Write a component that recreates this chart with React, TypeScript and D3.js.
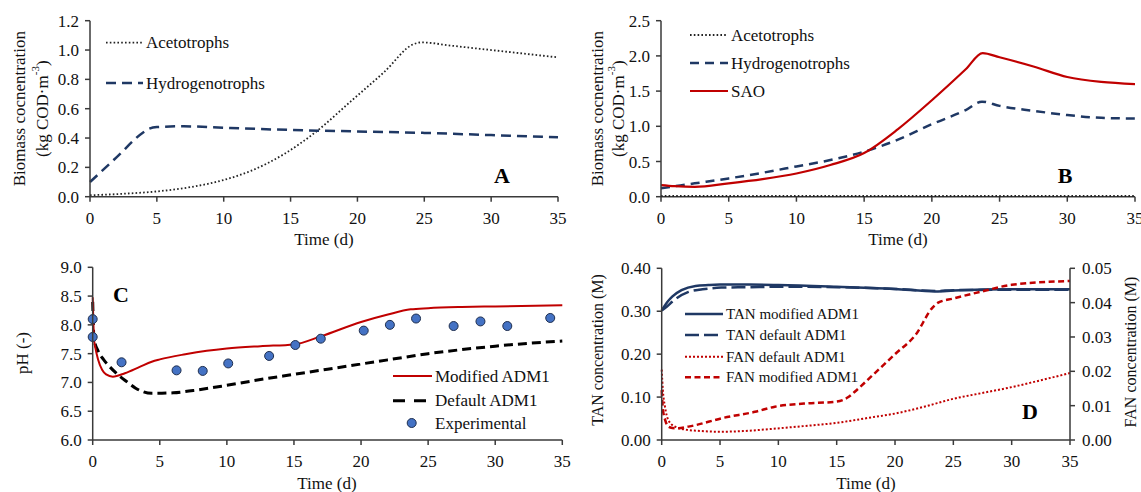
import React from "react";
import * as d3 from "d3";

// ---------- data ----------
const xTicks = [0, 5, 10, 15, 20, 25, 30, 35];
const ticksA = [0, 0.2, 0.4, 0.6, 0.8, 1.0, 1.2];
const ticksB = [0, 0.5, 1.0, 1.5, 2.0, 2.5];
const ticksC = [6.0, 6.5, 7.0, 7.5, 8.0, 8.5, 9.0];
const ticksDLeft = [0, 0.1, 0.2, 0.3, 0.4];
const ticksDRight = [0, 0.01, 0.02, 0.03, 0.04, 0.05];

// Panel A
const aAcetoT = [0, 2.5, 5, 7.5, 10, 12, 14.5, 17, 19.5, 22, 24.2, 24.8, 27, 30, 33, 35];
const aAcetoV = [0.01, 0.02, 0.036, 0.065, 0.114, 0.175, 0.29, 0.45, 0.65, 0.85, 1.04, 1.052, 1.03, 1.0, 0.97, 0.95];
const aHydroT = [0, 2, 4, 4.4, 5, 7, 10, 15, 20, 25, 30, 35];
const aHydroV = [0.1, 0.27, 0.44, 0.463, 0.475, 0.48, 0.47, 0.455, 0.445, 0.435, 0.42, 0.405];

// Panel B
const bAcetoT = [0, 10, 20, 30, 35];
const bAcetoV = [0.01, 0.01, 0.01, 0.01, 0.01];
const bHydroT = [0, 2.5, 5, 7.5, 10, 12.5, 15, 17.5, 20, 22.5, 23.7, 25, 27.5, 30, 32.5, 35];
const bHydroV = [0.12, 0.19, 0.26, 0.34, 0.43, 0.52, 0.64, 0.81, 1.03, 1.23, 1.35, 1.29, 1.22, 1.16, 1.12, 1.11];
const bSaoT = [0, 1, 2.5, 5, 7.5, 10, 12.5, 15, 17.5, 20, 22.5, 23.75, 25, 27.5, 30, 32.5, 35];
const bSaoV = [0.165, 0.15, 0.14, 0.19, 0.25, 0.33, 0.45, 0.62, 0.96, 1.37, 1.81, 2.04, 1.98, 1.85, 1.7, 1.63, 1.6];

// Panel C
const cModT = [0, 0.1, 0.2, 0.4, 0.7, 1.0, 1.5, 2.4, 3.5, 4.4, 5, 6.9, 8.5, 10, 12.5, 15, 17, 20, 22, 23.7, 25, 27.5, 30, 35];
const cModV = [8.48, 7.75, 7.6, 7.4, 7.22, 7.14, 7.1, 7.16, 7.27, 7.36, 7.4, 7.49, 7.55, 7.59, 7.63, 7.66, 7.8, 8.05, 8.18, 8.27, 8.29, 8.31, 8.32, 8.34];
const cDefT = [0, 0.1, 0.4, 0.8, 1.2, 1.9, 2.5, 3.2, 4.4, 6, 7.5, 10, 12.5, 15, 17.5, 20, 22.5, 25, 27.5, 30, 32.5, 35];
const cDefV = [8.4, 7.75, 7.55, 7.4, 7.29, 7.13, 7.02, 6.9, 6.81, 6.82, 6.86, 6.95, 7.05, 7.14, 7.23, 7.32, 7.41, 7.5, 7.57, 7.63, 7.68, 7.72];
const cExpT = [0, 0, 2.15, 6.25, 8.2, 10.1, 13.15, 15.1, 17, 20.2, 22.15, 24.1, 26.9, 28.9, 30.9, 34.1];
const cExpV = [8.1, 7.79, 7.35, 7.21, 7.2, 7.33, 7.46, 7.65, 7.76, 7.9, 8.0, 8.11, 7.98, 8.06, 7.98, 8.12];

// Panel D
const dTanModT = [0, 0.5, 0.9, 1.7, 2.9, 4, 5, 7.5, 10, 15, 20, 23.5, 25, 30, 35];
const dTanModV = [0.302, 0.322, 0.334, 0.349, 0.359, 0.361, 0.362, 0.362, 0.361, 0.357, 0.352, 0.346, 0.348, 0.351, 0.351];
const dTanDefT = [0, 0.5, 0.9, 2.3, 3.5, 5.1, 7.5, 10, 15, 20, 23.5, 25, 30, 35];
const dTanDefV = [0.302, 0.312, 0.322, 0.345, 0.351, 0.355, 0.356, 0.357, 0.356, 0.352, 0.347, 0.349, 0.35, 0.35];
const dFanDefT = [0, 0.1, 0.28, 0.57, 1.14, 2.28, 3, 5, 7, 9.3, 12, 15, 18, 20, 22.5, 25, 27.5, 30, 32.5, 35];
const dFanDefV = [0.0205, 0.0145, 0.0097, 0.0058, 0.0039, 0.0029, 0.0027, 0.0024, 0.0026, 0.0032, 0.004, 0.005, 0.0066, 0.0077, 0.0097, 0.012, 0.0137, 0.0154, 0.0174, 0.0195];
const dFanModT = [0, 0.1, 0.3, 0.57, 0.9, 1.43, 2.28, 3, 4, 5.1, 8, 9.7, 12.2, 15, 16, 16.5, 17.9, 20, 21.8, 23.2, 23.7, 25, 27.5, 30, 35];
const dFanModV = [0.0145, 0.009, 0.0058, 0.0039, 0.0035, 0.0034, 0.0039, 0.0044, 0.0053, 0.0063, 0.0082, 0.0097, 0.0106, 0.0112, 0.0125, 0.0139, 0.0183, 0.025, 0.0308, 0.0385, 0.04, 0.0412, 0.0433, 0.0452, 0.0463];

// ---------- styles ----------
const FONT = "'Liberation Serif','Times New Roman',Times,serif";
const NAVY = "#1F3864";
const RED = "#C00000";
const AX = "#3a3a3a";

type Sc = d3.ScaleLinear<number, number>;

function path(x: Sc, y: Sc, ts: number[], vs: number[]) {
  const pts: [number, number][] = ts.map((t, i) => [t, vs[i]]);
  return d3
    .line<[number, number]>()
    .x((d) => x(d[0]))
    .y((d) => y(d[1]))
    .curve(d3.curveMonotoneX)(pts) as string;
}

function BottomAxis({ x, y0 }: { x: Sc; y0: number }) {
  return (
    <g>
      <line x1={x(0)} x2={x(35)} y1={y0} y2={y0} stroke={AX} strokeWidth={1.5} />
      {xTicks.map((t) => (
        <g key={t}>
          <line x1={x(t)} x2={x(t)} y1={y0} y2={y0 + 5} stroke={AX} strokeWidth={1.5} />
          <text x={x(t)} y={y0 + 27} textAnchor="middle" fontSize={17} fill="#111">
            {t}
          </text>
        </g>
      ))}
    </g>
  );
}

function LeftAxis({ y, x0, ticks, fmt }: { y: Sc; x0: number; ticks: number[]; fmt: string }) {
  const f = d3.format(fmt);
  const [lo, hi] = y.domain();
  return (
    <g>
      <line x1={x0} x2={x0} y1={y(lo)} y2={y(hi)} stroke={AX} strokeWidth={1.5} />
      {ticks.map((t) => (
        <g key={t}>
          <line x1={x0 - 5} x2={x0} y1={y(t)} y2={y(t)} stroke={AX} strokeWidth={1.5} />
          <text x={x0 - 11} y={y(t) + 6} textAnchor="end" fontSize={17} fill="#111">
            {f(t)}
          </text>
        </g>
      ))}
    </g>
  );
}

function RightAxis({ y, x0, ticks, fmt }: { y: Sc; x0: number; ticks: number[]; fmt: string }) {
  const f = d3.format(fmt);
  const [lo, hi] = y.domain();
  return (
    <g>
      <line x1={x0} x2={x0} y1={y(lo)} y2={y(hi)} stroke={AX} strokeWidth={1.5} />
      {ticks.map((t) => (
        <g key={t}>
          <line x1={x0} x2={x0 + 5} y1={y(t)} y2={y(t)} stroke={AX} strokeWidth={1.5} />
          <text x={x0 + 12} y={y(t) + 6} textAnchor="start" fontSize={17} fill="#111">
            {f(t)}
          </text>
        </g>
      ))}
    </g>
  );
}

function VTitle({ x, y, children, size = 17 }: { x: number; y: number; children: any; size?: number }) {
  return (
    <text transform={`translate(${x},${y}) rotate(-90)`} textAnchor="middle" dominantBaseline="central" fontSize={size} fill="#111">
      {children}
    </text>
  );
}

function BiomassTitle({ x1, x2, y }: { x1: number; x2: number; y: number }) {
  return (
    <g>
      <VTitle x={x1} y={y}>Biomass cocnentration</VTitle>
      <VTitle x={x2} y={y}>
        (kg COD·m<tspan fontSize={11} dy={-7}>-3</tspan>
        <tspan dy={7}>)</tspan>
      </VTitle>
    </g>
  );
}

function LegendItem({ x1, x2, y, text, stroke, width, dash, size = 17 }: any) {
  return (
    <g>
      <line x1={x1} x2={x2} y1={y} y2={y} stroke={stroke} strokeWidth={width} strokeDasharray={dash} />
      <text x={x2 + 3} y={y} dominantBaseline="central" fontSize={size} fill="#111">
        {text}
      </text>
    </g>
  );
}

export default function App() {
  const xA = d3.scaleLinear().domain([0, 35]).range([90, 558]);
  const yA = d3.scaleLinear().domain([0, 1.2]).range([196.7, 20.7]);
  const xB = d3.scaleLinear().domain([0, 35]).range([661, 1135]);
  const yB = d3.scaleLinear().domain([0, 2.5]).range([196.7, 20.7]);
  const xC = d3.scaleLinear().domain([0, 35]).range([92.7, 562.3]);
  const yC = d3.scaleLinear().domain([6, 9]).range([440, 267.3]);
  const xD = d3.scaleLinear().domain([0, 35]).range([661.7, 1070]);
  const yD = d3.scaleLinear().domain([0, 0.4]).range([440, 268.3]);
  const yD2 = d3.scaleLinear().domain([0, 0.05]).range([440, 268.3]);

  return (
    <svg
      width={1141}
      height={492}
      style={{ position: "absolute", left: 0, top: 0, background: "#fff" }}
      fontFamily={FONT}
    >
      <rect width={1141} height={492} fill="#fff" />

      {/* ---------- Panel A ---------- */}
      <g>
        <path d={path(xA, yA, aAcetoT, aAcetoV)} fill="none" stroke="#222" strokeWidth={1.8} strokeDasharray="1.6,2.2" />
        <path d={path(xA, yA, aHydroT, aHydroV)} fill="none" stroke={NAVY} strokeWidth={2.5} strokeDasharray="10,6" />
        <BottomAxis x={xA} y0={yA(0)} />
        <LeftAxis y={yA} x0={xA(0)} ticks={ticksA} fmt=".1f" />
        <BiomassTitle x1={19} x2={42} y={108.7} />
        <text x={324} y={245} textAnchor="middle" fontSize={17} fill="#111">Time (d)</text>
        <LegendItem x1={106} x2={143} y={42.7} text="Acetotrophs" stroke="#222" width={1.8} dash="1.6,2.2" />
        <LegendItem x1={106} x2={143} y={83} text="Hydrogenotrophs" stroke={NAVY} width={2.5} dash="10,6" />
        <text x={502} y={183} textAnchor="middle" fontSize={22} fontWeight="bold" fill="#000">A</text>
      </g>

      {/* ---------- Panel B ---------- */}
      <g>
        <path d={path(xB, yB, bHydroT, bHydroV)} fill="none" stroke={NAVY} strokeWidth={2.5} strokeDasharray="9,6" />
        <path d={path(xB, yB, bSaoT, bSaoV)} fill="none" stroke={RED} strokeWidth={2.2} />
        <BottomAxis x={xB} y0={yB(0)} />
        <path d={path(xB, yB, bAcetoT, bAcetoV)} fill="none" stroke="#222" strokeWidth={1.8} strokeDasharray="1.6,2.2" />
        <LeftAxis y={yB} x0={xB(0)} ticks={ticksB} fmt=".1f" />
        <BiomassTitle x1={597} x2={618} y={108.7} />
        <text x={898} y={245} textAnchor="middle" fontSize={17} fill="#111">Time (d)</text>
        <LegendItem x1={690} x2={728} y={35} text="Acetotrophs" stroke="#222" width={1.8} dash="1.6,2.2" />
        <LegendItem x1={690} x2={728} y={63} text="Hydrogenotrophs" stroke={NAVY} width={2.5} dash="9,6" />
        <LegendItem x1={690} x2={728} y={91} text="SAO" stroke={RED} width={2.2} />
        <text x={1065} y={183} textAnchor="middle" fontSize={22} fontWeight="bold" fill="#000">B</text>
      </g>

      {/* ---------- Panel C ---------- */}
      <g>
        <path d={path(xC, yC, cDefT, cDefV)} fill="none" stroke="#000" strokeWidth={3} strokeDasharray="9,5" />
        <path d={path(xC, yC, cModT, cModV)} fill="none" stroke={RED} strokeWidth={2} />
        {cExpT.map((t, i) => (
          <circle key={i} cx={xC(t)} cy={yC(cExpV[i])} r={4.5} fill="#4472C4" stroke="#1f2f4f" strokeWidth={1} />
        ))}
        <BottomAxis x={xC} y0={yC(6)} />
        <LeftAxis y={yC} x0={xC(0)} ticks={ticksC} fmt=".1f" />
        <VTitle x={22} y={353}>pH (-)</VTitle>
        <text x={327} y={489} textAnchor="middle" fontSize={17} fill="#111">Time (d)</text>
        <LegendItem x1={393} x2={432} y={376} text="Modified ADM1" stroke={RED} width={2} />
        <LegendItem x1={393} x2={432} y={400.7} text="Default ADM1" stroke="#000" width={3} dash="12,9" />
        <circle cx={411.7} cy={423} r={4.5} fill="#4472C4" stroke="#1f2f4f" strokeWidth={1} />
        <text x={435} y={423} dominantBaseline="central" fontSize={17} fill="#111">Experimental</text>
        <text x={121} y={302} textAnchor="middle" fontSize={22} fontWeight="bold" fill="#000">C</text>
      </g>

      {/* ---------- Panel D ---------- */}
      <g>
        <path d={path(xD, yD, dTanDefT, dTanDefV)} fill="none" stroke={NAVY} strokeWidth={2.5} strokeDasharray="14,5" />
        <path d={path(xD, yD, dTanModT, dTanModV)} fill="none" stroke={NAVY} strokeWidth={2.5} />
        <path d={path(xD, yD2, dFanDefT, dFanDefV)} fill="none" stroke={RED} strokeWidth={2} strokeDasharray="2,2" />
        <path d={path(xD, yD2, dFanModT, dFanModV)} fill="none" stroke={RED} strokeWidth={2.5} strokeDasharray="6,3.5" />
        <BottomAxis x={xD} y0={yD(0)} />
        <LeftAxis y={yD} x0={xD(0)} ticks={ticksDLeft} fmt=".2f" />
        <RightAxis y={yD2} x0={xD(35)} ticks={ticksDRight} fmt=".2f" />
        <VTitle x={597} y={350} size={16}>TAN concentration (M)</VTitle>
        <VTitle x={1130} y={352} size={16}>FAN concentration (M)</VTitle>
        <text x={866} y={489} textAnchor="middle" fontSize={17} fill="#111">Time (d)</text>
        <LegendItem x1={685} x2={723} y={314} text="TAN modified ADM1" stroke={NAVY} width={2.5} size={15} />
        <LegendItem x1={685} x2={723} y={335} text="TAN default ADM1" stroke={NAVY} width={2.5} dash="14,5" size={15} />
        <LegendItem x1={685} x2={723} y={356.7} text="FAN default ADM1" stroke={RED} width={2} dash="2,2" size={15} />
        <LegendItem x1={685} x2={723} y={377.3} text="FAN modified ADM1" stroke={RED} width={2.5} dash="6,3.5" size={15} />
        <text x={1030} y={419} textAnchor="middle" fontSize={22} fontWeight="bold" fill="#000">D</text>
      </g>
    </svg>
  );
}
